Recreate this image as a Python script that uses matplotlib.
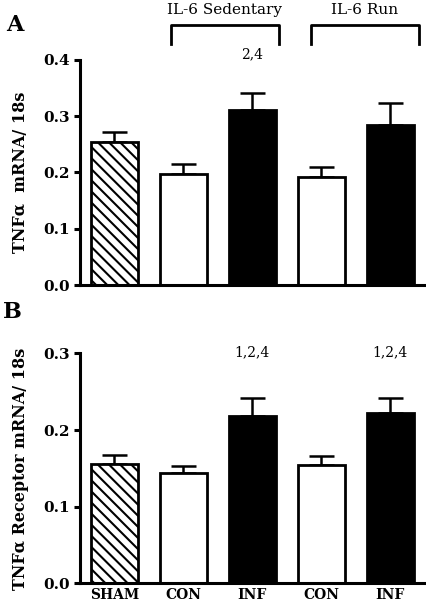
import matplotlib
matplotlib.use('Agg')
import matplotlib.pyplot as plt

groups = ['SHAM', 'CON', 'INF', 'CON', 'INF']
tnf_mean = [0.254, 0.197, 0.311, 0.192, 0.285]
tnf_err = [0.017, 0.018, 0.030, 0.017, 0.038]
tnfr_mean = [0.156, 0.144, 0.218, 0.154, 0.222]
tnfr_err = [0.011, 0.009, 0.024, 0.012, 0.020]
tnf_marks = ['', '', '2,4', '', '']
tnfr_marks = ['', '', '1,2,4', '', '1,2,4']

plt.rcParams['font.family'] = 'DejaVu Serif'
plt.rcParams['font.weight'] = 'bold'
plt.rcParams['hatch.linewidth'] = 1.5

fills = ['white', 'white', 'black', 'white', 'black']
hatches = ['\\\\\\', None, None, None, None]

fig = plt.figure(figsize=(4.27, 6.04), dpi=100)
axA = fig.add_axes([0.187, 0.528, 0.808, 0.373])
axB = fig.add_axes([0.187, 0.034, 0.808, 0.381])


def draw_panel(ax, means, errs, marks, ymax, mark_y, ylabel):
    x = list(range(len(means)))
    for i in x:
        ax.bar(i, means[i], width=0.68, color=fills[i], edgecolor='black',
               linewidth=2.0, hatch=hatches[i], zorder=2)
        ax.errorbar(i, means[i], yerr=[[0], [errs[i]]], fmt='none',
                    ecolor='black', elinewidth=1.8, capsize=9, capthick=1.8, zorder=1)
        if marks[i]:
            ax.text(i, mark_y, marks[i], ha='center', va='center',
                    fontsize=10, fontweight='normal', clip_on=False)
    ax.set_xlim(-0.5, 4.5)
    ax.set_ylim(0, ymax)
    ticks = [t / 10 for t in range(int(round(ymax * 10)) + 1)]
    ax.set_yticks(ticks)
    ax.set_yticklabels(['%.1f' % t for t in ticks], fontsize=11, fontweight='bold')
    ax.spines['top'].set_visible(False)
    ax.spines['right'].set_visible(False)
    ax.spines['left'].set_linewidth(2.2)
    ax.spines['bottom'].set_linewidth(2.2)
    ax.tick_params(axis='y', direction='out', length=4, width=2.2)
    ax.tick_params(axis='x', length=0)
    ax.set_ylabel(ylabel, fontsize=11.5, fontweight='bold', labelpad=10)


draw_panel(axA, tnf_mean, tnf_err, tnf_marks, 0.4, 0.41, 'TNF\u03b1  mRNA/ 18s')
draw_panel(axB, tnfr_mean, tnfr_err, tnfr_marks, 0.3, 0.301, 'TNF\u03b1 Receptor mRNA/ 18s')

axA.set_xticks([])
axB.set_xticks(range(len(groups)))
axB.set_xticklabels(groups, fontsize=10, fontweight='bold')

# brackets over the IL-6 groups
for x0, x1, name in [(0.82, 2.38, 'IL-6 Sedentary'), (2.85, 4.41, 'IL-6 Run')]:
    axA.plot([x0, x0, x1, x1], [0.428, 0.462, 0.462, 0.428], color='black',
             linewidth=2.0, clip_on=False)
    axA.text((x0 + x1) / 2, 0.488, name, ha='center', va='center',
             fontsize=11, fontweight='normal')

fig.text(0.035, 0.958, 'A', fontsize=16, fontweight='bold', ha='center', va='center')
fig.text(0.028, 0.483, 'B', fontsize=16, fontweight='bold', ha='center', va='center')

fig.savefig('out.png', dpi=100)
